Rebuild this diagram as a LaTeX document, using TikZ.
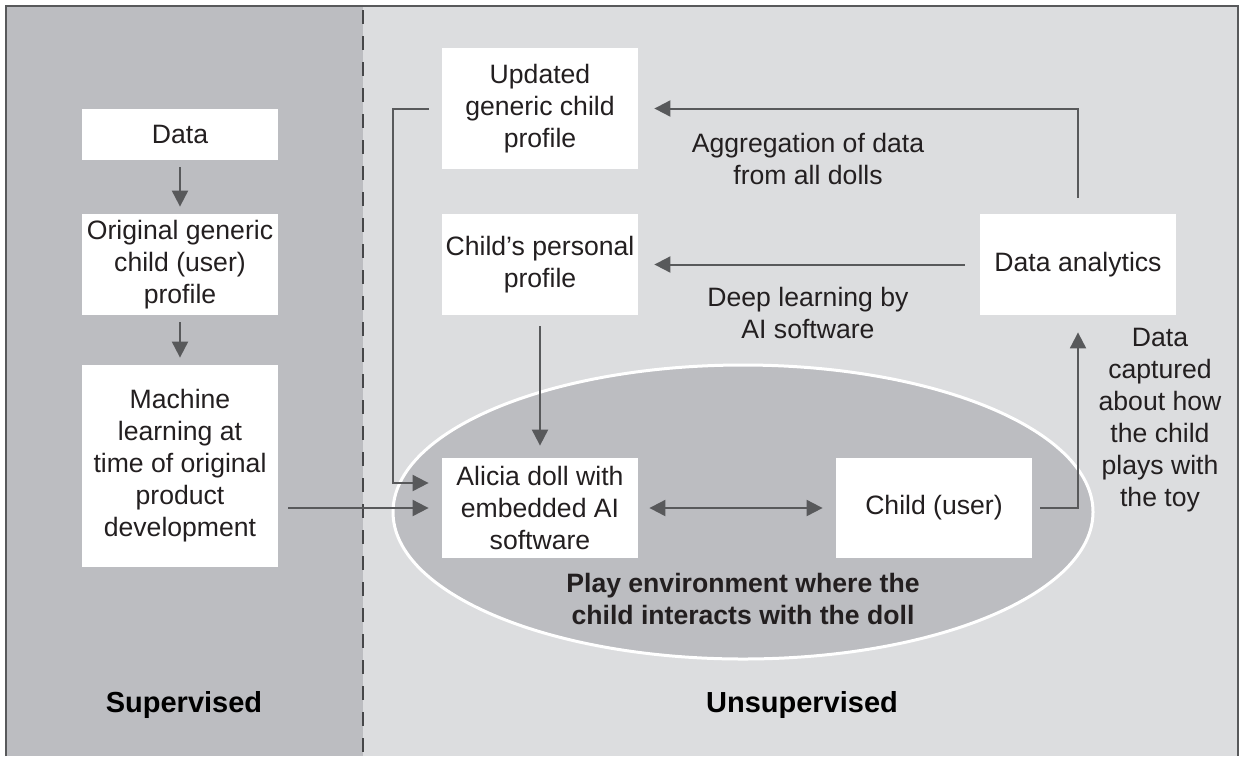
\documentclass[tikz,border=0pt]{standalone}
\usepackage{fontspec}
\setmainfont{Liberation Sans}
\usepackage{tikz}
\usetikzlibrary{arrows.meta,positioning}
\definecolor{supgray}{HTML}{BCBDC1}
\definecolor{unsgray}{HTML}{DCDDDF}
\definecolor{linegray}{HTML}{58595B}
\definecolor{inkgray}{HTML}{231F20}
\tikzset{box/.style={fill=white,inner sep=0pt,minimum width=98pt,align=center,text=inkgray,font=\fontsize{13.3pt}{16pt}\selectfont},
    lbl/.style={inner sep=0pt,align=center,text=inkgray,font=\fontsize{13.3pt}{16pt}\selectfont},
    playlbl/.style={lbl,font=\fontsize{13.3pt}{16pt}\selectfont\bfseries},
    side/.style={inner sep=0pt,text=black,font=\fontsize{14.5pt}{17pt}\selectfont\bfseries},
    arr/.style={draw=linegray,line width=1pt,-{Triangle[length=8pt,width=8pt]},shorten <=4pt,shorten >=6pt}}

\begin{document}
\begin{tikzpicture}[x=0.5pt,y=-0.5pt]
                \useasboundingbox (0,0) rectangle (1245,756);
                \fill[supgray] (6,6) rectangle (363,756);
                \fill[unsgray] (363,6) rectangle (1238,756);
                \draw[linegray,line width=0.8pt] (6,756) -- (6,6) -- (1238,6) -- (1238,756);
                \draw[linegray!80!black,line width=1pt,dash pattern=on 7pt off 6pt] (363,10) -- (363,756);
                \draw[supgray,fill=supgray,draw=white,line width=1.5pt] (743,512) ellipse [x radius=350, y radius=147];

                \node[box,minimum height=25.5pt] (data) at (180,134.5) {Data};
                \node[box,minimum height=50.5pt] (orig) at (180,264.5) {Original generic\\child (user)\\profile};
                \node[box,minimum height=101pt] (mach) at (180,466) {Machine\\learning at\\time of original\\product\\development};
                \node[box,minimum height=60.5pt] (upd) at (540,108.5) {Updated\\generic child\\profile};
                \node[box,minimum height=50.5pt] (pers) at (540,264.5) {Child's personal\\profile};
                \node[box,minimum height=50.5pt] (ana) at (1078,264.5) {Data analytics};
                \node[box,minimum height=50pt] (doll) at (540,508) {Alicia doll with\\embedded AI\\software};
                \node[box,minimum height=50pt] (child) at (934,508) {Child (user)};

                \node[lbl] (agg) at (808,159) {Aggregation of data\\from all dolls};
                \node[lbl] (deep) at (808,313) {Deep learning by\\AI software};
                \node[lbl] (capt) at (1160,420) {Data\\captured\\about how\\the child\\plays with\\the toy};
                \node[playlbl] (play) at (743,599) {Play environment where the\\child interacts with the doll};
                \node[side] (sup) at (184,705) {Supervised};
                \node[side] (unsup) at (802,705) {Unsupervised};

                \foreach \a/\b in {data/orig,orig/mach} {
                    \draw[arr,shorten <=3.5pt,shorten >=3.5pt] (\a) -- (\b);
                }
                \draw[arr,shorten <=5pt,shorten >=6.5pt] (mach.east |- doll) -- (doll);
                \draw[arr,shorten <=6.5pt,shorten >=6.5pt] (upd.west) -- ++(-49,0) |- ([yshift=12.5pt]doll.west);
                \draw[arr,shorten <=5.5pt] (pers) -- (doll);
                \draw[arr,{Triangle[length=8pt,width=8pt]}-{Triangle[length=8pt,width=8pt]},shorten <=5.5pt,shorten >=6.5pt] (doll) -- (child);
                \draw[arr,shorten >=8.5pt] (child.east) -| (ana.south);
                \draw[arr,shorten <=7.5pt,shorten >=8pt] (ana) -- (pers);
                \draw[arr,shorten <=8pt,shorten >=8pt] (ana.north) |- (upd.east);
            \end{tikzpicture}
\end{document}
